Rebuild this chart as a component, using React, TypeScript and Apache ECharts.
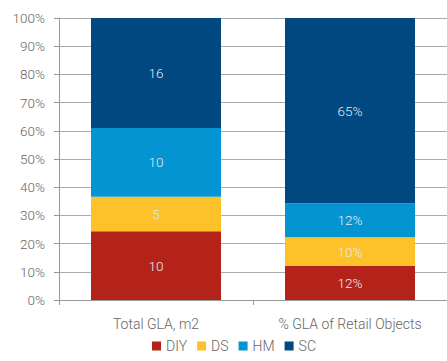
import React, { useEffect, useRef } from "react";
import * as echarts from "echarts";

const categories = ["Total GLA, m2", "% GLA of Retail Objects"];
const seriesNames = ["DIY", "DS", "HM", "SC"];
const diyValues = [10, 12];
const dsValues = [5, 10];
const hmValues = [10, 12];
const scValues = [16, 65];
const labelSuffix = ["", "%"];
const colors = ["#b3231a", "#fdc12a", "#0394d1", "#00487f"];

export default function App() {
  const ref = useRef<HTMLDivElement>(null);
  useEffect(() => {
    if (!ref.current) return;
    const chart = echarts.init(ref.current, undefined, { renderer: "svg" });
    const raw = [diyValues, dsValues, hmValues, scValues];
    const totals = categories.map((_, i) => raw.reduce((s, arr) => s + arr[i], 0));
    const series = raw.map((arr, si) => ({
      name: seriesNames[si],
      type: "bar",
      stack: "total",
      barWidth: 130,
      data: arr.map((v, i) => ({ value: (v / totals[i]) * 100, raw: v })),
      itemStyle: { color: colors[si] },
      label: {
        show: true,
        position: "inside",
        color: "#e6ebf2",
        fontSize: 13.5,
        fontFamily: "Roboto",
        fontWeight: 300,
        formatter: (p: any) => `${p.data.raw}${labelSuffix[p.dataIndex]}`,
      },
    }));
    chart.setOption({
      animation: false,
      grid: { left: 59, right: -2, top: 18, bottom: 61 },
      legend: {
        data: seriesNames,
        bottom: 3,
        left: 147,
        itemWidth: 9,
        itemHeight: 9,
        itemGap: 10,
        icon: "rect",
        textStyle: { color: "#666", fontSize: 14, fontFamily: "Roboto", fontWeight: 300 },
      },
      xAxis: {
        type: "category",
        data: categories,
        axisLine: { lineStyle: { color: "#999" } },
        axisTick: { show: true, length: 5, alignWithLabel: false, lineStyle: { color: "#999" } },
        axisLabel: { color: "#666", fontSize: 14, margin: 17, fontFamily: "Roboto", fontWeight: 300 },
      },
      yAxis: {
        type: "value",
        min: 0,
        max: 100,
        interval: 10,
        axisLine: { show: true, lineStyle: { color: "#999" } },
        axisTick: { show: true, length: 5, inside: false, lineStyle: { color: "#999" } },
        splitLine: { show: true, lineStyle: { color: "#aaa" } },
        axisLabel: {
          color: "#666",
          fontSize: 13.5,
          margin: 14,
          fontFamily: "Roboto",
          fontWeight: 300,
          formatter: (v: number) => `${v}%`,
        },
      },
      series,
    });
    return () => chart.dispose();
  }, []);
  return <div ref={ref} style={{ width: 447, height: 361, position: "absolute", left: 0, top: 0 }} />;
}
